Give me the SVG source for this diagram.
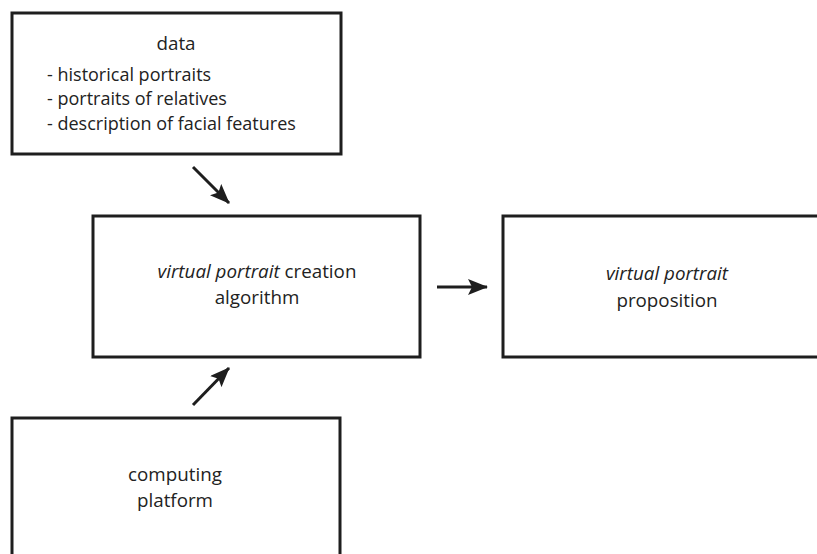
<svg xmlns="http://www.w3.org/2000/svg" width="817" height="554" viewBox="0 0 817 554">
<style>
.box{fill:#fff;stroke:#1e1e1e;stroke-width:3}
text{font-family:"Open Sans","Noto Sans",sans-serif;font-size:18.8px;fill:#222}
.l{font-size:18px}
.c{text-anchor:middle}
.i{font-style:italic}
.con{stroke:#1e1e1e;stroke-width:3;fill:none;marker-end:url(#ah)}
</style>
<defs>
<marker id="ah" viewBox="0 0 20 16" refX="19" refY="8" markerWidth="6.67" markerHeight="5.33" markerUnits="strokeWidth" orient="auto">
<path d="M0,0 L20,8 L0,16 L4,8 z" fill="#1e1e1e"/>
</marker>
</defs>
<rect width="817" height="554" fill="#fff"/>
<g id="data">
<rect class="box" x="12" y="13" width="329" height="141"/>
<text class="c" x="176" y="50">data</text>
<text class="l" x="47" y="80.5">- historical portraits</text>
<text class="l" x="47" y="105">- portraits of relatives</text>
<text class="l" x="47" y="129.5">- description of facial features</text>
</g>
<g id="algorithm">
<rect class="box" x="93" y="216" width="327" height="141"/>
<text class="c" x="257" y="278"><tspan class="i">virtual portrait</tspan> creation</text>
<text class="c" x="257" y="304">algorithm</text>
</g>
<g id="proposition">
<rect class="box" x="503" y="216" width="330" height="141"/>
<text class="c i" x="667" y="280">virtual portrait</text>
<text class="c" x="667" y="307">proposition</text>
</g>
<g id="platform">
<rect class="box" x="12" y="418" width="328" height="150"/>
<text class="c" x="175" y="481">computing</text>
<text class="c" x="175" y="507">platform</text>
</g>
<g id="connectors">
<line class="con" x1="193" y1="167" x2="229" y2="203"/>
<line class="con" x1="193" y1="405" x2="229" y2="368"/>
<line class="con" x1="437" y1="287" x2="487" y2="287"/>
</g>
</svg>
